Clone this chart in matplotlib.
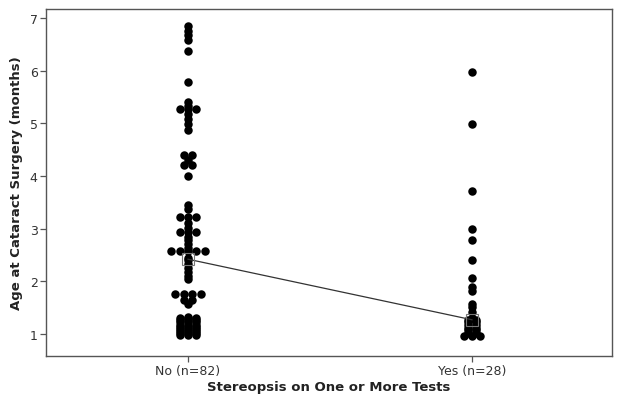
import numpy as np
import matplotlib
matplotlib.use("Agg")
import matplotlib.pyplot as plt

categories = ["No (n=82)", "Yes (n=28)"]

ages_no = [6.84, 6.76, 6.67, 6.58, 6.37, 5.78,
           5.40, 5.33, 5.27, 5.27, 5.27, 5.18, 5.08, 4.98, 4.87,
           4.39, 4.39, 4.30, 4.21, 4.21,
           4.00,
           3.45, 3.37, 3.22, 3.22, 3.22, 3.10, 3.02, 2.93, 2.93, 2.93,
           2.85, 2.78, 2.70, 2.64,
           2.58, 2.58, 2.58, 2.58, 2.58,
           2.44, 2.40, 2.33, 2.26, 2.18, 2.11, 2.04,
           1.76, 1.76, 1.76, 1.76, 1.64, 1.64, 1.56,
           1.33,
           1.30, 1.30, 1.30, 1.26, 1.26, 1.26, 1.22, 1.22, 1.22,
           1.18, 1.18, 1.18, 1.14, 1.14, 1.14, 1.10, 1.10, 1.10,
           1.06, 1.06, 1.06, 1.02, 1.02, 1.02, 0.98, 0.98, 0.98]

ages_yes = [5.97, 4.98, 3.71, 2.99, 2.78, 2.40, 2.06, 1.89, 1.82,
            1.57, 1.51, 1.42,
            1.31, 1.27, 1.27,
            1.22, 1.22, 1.17, 1.17, 1.12, 1.12, 1.07, 1.07, 1.02, 1.02,
            0.96, 0.96, 0.96]

groups = [ages_no, ages_yes]

fig = plt.figure(figsize=(6.24, 4.10), dpi=100)
ax = fig.add_axes([46/624, 1-357/410, (612-46)/624, (357-10)/410])

spacing = 0.0295  # horizontal spacing between tied dots (axis units)

for gi, vals in enumerate(groups):
    xc = gi + 1
    vals = np.asarray(vals)
    xs = np.empty_like(vals)
    for v in np.unique(vals):
        idx = np.where(vals == v)[0]
        n = len(idx)
        offs = (np.arange(n) - (n - 1) / 2) * spacing
        xs[idx] = xc + offs
    ax.plot(xs, vals, 'o', color='black', markersize=6.1, markeredgewidth=0,
            linestyle='none', zorder=2)

meds = [np.median(g) for g in groups]
xpos = [1, 2]
ax.plot(xpos, meds, '-', color='#333333', lw=0.9, zorder=3)
ax.plot(xpos, meds, 's', markersize=8, markerfacecolor='none',
        markeredgecolor='#777777', markeredgewidth=0.8, zorder=4)

ax.set_xlim(0.5, 2.493)
ax.set_ylim(0.582, 7.171)
ax.set_xticks(xpos)
ax.set_xticklabels(categories)
ax.set_yticks([1, 2, 3, 4, 5, 6, 7])

for s in ax.spines.values():
    s.set_color('#555555')
    s.set_linewidth(1.0)
ax.tick_params(direction='out', length=4, width=0.9, colors='#555555',
               labelcolor='#333333', labelsize=9, pad=2)

ax.set_xlabel("Stereopsis on One or More Tests", fontsize=9.5,
              fontweight='bold', color='#222222', labelpad=2)
ax.set_ylabel("Age at Cataract Surgery (months)", fontsize=9.5,
              fontweight='bold', color='#222222', labelpad=5)

fig.savefig("out.png", dpi=100)
